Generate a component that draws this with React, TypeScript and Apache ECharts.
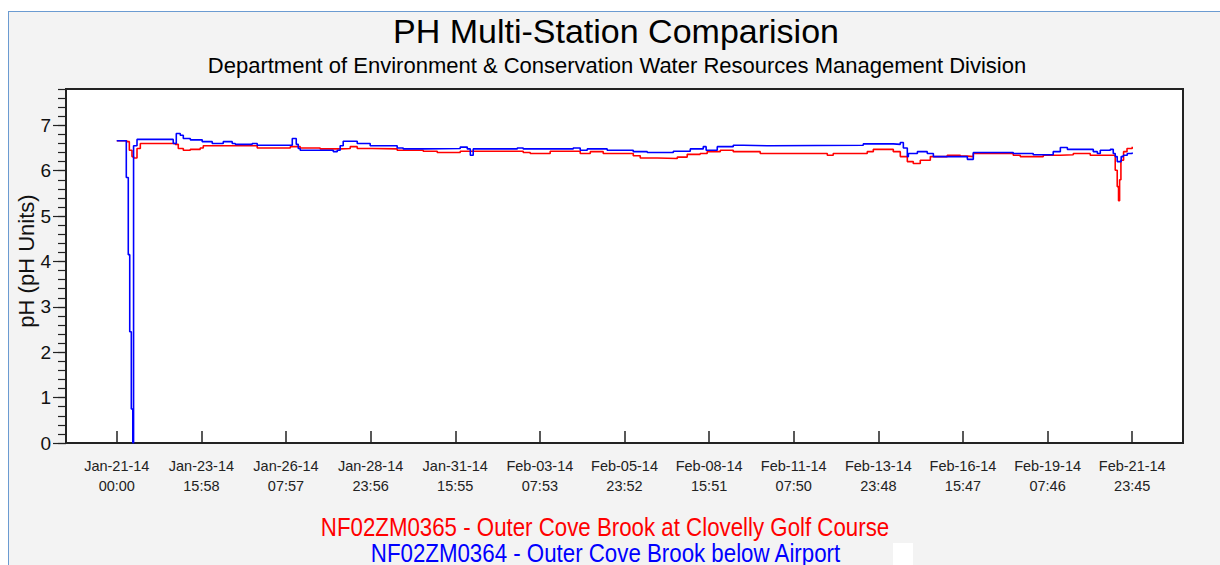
import React, { useEffect, useRef } from "react";
import * as echarts from "echarts";

// Data period: Jan-21-14 00:00 -> Feb-21-14 23:45 (hours since start)
const SPAN_HOURS = 767.75;

const tickLabels = [
  "Jan-21-14\n00:00", "Jan-23-14\n15:58", "Jan-26-14\n07:57", "Jan-28-14\n23:56",
  "Jan-31-14\n15:55", "Feb-03-14\n07:53", "Feb-05-14\n23:52", "Feb-08-14\n15:51",
  "Feb-11-14\n07:50", "Feb-13-14\n23:48", "Feb-16-14\n15:47", "Feb-19-14\n07:46",
  "Feb-21-14\n23:45",
];

const yTickValues = [0, 1, 2, 3, 4, 5, 6, 7];

const legendRed = "NF02ZM0365 - Outer Cove Brook at Clovelly Golf Course";
const legendBlue = "NF02ZM0364 - Outer Cove Brook below Airport";

// [hours since Jan-21-14 00:00, pH]
const station0365 = [
  [0, 6.66], [7.7, 6.64], [9.5, 6.45], [11.5, 6.31], [12.7, 6.28], [15.3, 6.49],
  [17.8, 6.6], [44.2, 6.58], [46.5, 6.49], [50.3, 6.45], [55.6, 6.47], [63.1, 6.5],
  [65.4, 6.55], [106.2, 6.5], [131.2, 6.53], [138.7, 6.5], [153.8, 6.48], [169, 6.49],
  [176.5, 6.53], [181.8, 6.49], [193.2, 6.48], [212, 6.45], [231.7, 6.43], [242.3, 6.4],
  [259.7, 6.43], [307.3, 6.4], [312.6, 6.38], [327.7, 6.43], [350.4, 6.38], [358, 6.42],
  [367.8, 6.38], [390.5, 6.33], [395.8, 6.28], [408.6, 6.27], [423.8, 6.3], [431.3, 6.36],
  [441.1, 6.38], [446.4, 6.42], [456.3, 6.45], [466.1, 6.42], [486.5, 6.38], [537.2, 6.34],
  [541.7, 6.38], [567.4, 6.42], [572, 6.47], [587.1, 6.42], [592.4, 6.31], [597.7, 6.2],
  [602.2, 6.16], [607.5, 6.23], [615.1, 6.31], [627.9, 6.34], [637.8, 6.32], [643.1, 6.31],
  [647.6, 6.38], [677.8, 6.34], [683.1, 6.31], [700.5, 6.34], [713.4, 6.35], [723.2, 6.38],
  [736, 6.34], [754.9, 6.01], [756.4, 5.65], [757.4, 5.34], [758.2, 5.8], [759.2, 6.23],
  [761.2, 6.42], [763.8, 6.49], [767.75, 6.53],
];

const station0364 = [
  [0, 6.66], [7.2, 5.85], [8.7, 4.15], [9.8, 2.45], [11, 0.75], [12.1, 0],
  [12.7, 6.55], [15.3, 6.69], [42.7, 6.6], [45, 6.82], [48, 6.78], [50.3, 6.71],
  [55.6, 6.68], [64.6, 6.64], [72.2, 6.6], [80.5, 6.64], [87.3, 6.6], [89.6, 6.58],
  [102.4, 6.6], [106.2, 6.56], [132.7, 6.71], [135.7, 6.58], [137.2, 6.49], [138.7, 6.45],
  [163.7, 6.42], [166.7, 6.45], [168.9, 6.55], [171.2, 6.65], [181.8, 6.6], [191.6, 6.55],
  [212, 6.5], [216.6, 6.48], [231.7, 6.49], [259.7, 6.52], [265, 6.48], [267.3, 6.34],
  [269.5, 6.48], [302.8, 6.5], [307.3, 6.48], [345.1, 6.5], [350.4, 6.45], [355.7, 6.48],
  [370.8, 6.45], [390.5, 6.42], [401.1, 6.4], [420.8, 6.43], [433.6, 6.48], [443.4, 6.53],
  [445.6, 6.45], [454, 6.53], [466.1, 6.56], [473.7, 6.55], [491.8, 6.56], [564.4, 6.59],
  [587.1, 6.58], [592.4, 6.62], [594.7, 6.5], [597.7, 6.31], [598.5, 6.38], [605.3, 6.42],
  [612.8, 6.38], [617.4, 6.31], [643.1, 6.25], [647.6, 6.4], [677.8, 6.38], [692.9, 6.35],
  [708, 6.42], [713.4, 6.51], [718.7, 6.47], [738.3, 6.42], [741.4, 6.38], [743.6, 6.45],
  [751.2, 6.47], [753.4, 6.38], [754.9, 6.31], [756.4, 6.2], [759.4, 6.31], [761, 6.34],
  [764, 6.38], [767.75, 6.4],
];

const FONT = '"Liberation Sans", Arial, Helvetica, sans-serif';

export default function App() {
  const ref = useRef<HTMLDivElement>(null);

  useEffect(() => {
    if (!ref.current) return;
    const chart = echarts.init(ref.current, undefined, { renderer: "svg" });
    const tickStep = SPAN_HOURS / (tickLabels.length - 1);
    const tickHours = tickLabels.map((_, i) => i * tickStep);
    const pad = SPAN_HOURS * 0.05;

    chart.setOption({
      animation: false,
      backgroundColor: "transparent",
      grid: {
        left: 57,
        top: 77,
        width: 1117,
        height: 354,
        show: true,
        backgroundColor: "#ffffff",
        borderColor: "#222",
        borderWidth: 2,
        containLabel: false,
      },
      xAxis: {
        type: "value",
        min: -pad,
        max: SPAN_HOURS + pad,
        splitLine: { show: false },
        axisLine: { show: true, onZero: false, lineStyle: { color: "#222", width: 2 } },
        axisTick: {
          show: true,
          inside: true,
          length: 12,
          customValues: tickHours,
          lineStyle: { color: "#222", width: 1.5 },
        },
        axisLabel: {
          customValues: tickHours,
          formatter: (v: number) => tickLabels[Math.round(v / tickStep)] ?? "",
          fontFamily: FONT,
          fontSize: 14.5,
          lineHeight: 20,
          color: "#222",
          margin: 13,
        },
      },
      yAxis: [
        {
          type: "value",
          min: 0,
          max: 7.8,
          splitLine: { show: false },
          axisLine: { show: true, onZero: false, lineStyle: { color: "#222", width: 2 } },
          axisTick: {
            show: true,
            inside: false,
            length: 13,
            customValues: yTickValues,
            lineStyle: { color: "#222", width: 1.2 },
          },
          axisLabel: {
            customValues: yTickValues,
            fontFamily: FONT,
            fontSize: 19,
            color: "#111",
            margin: 15,
          },
        },
        {
          type: "value",
          min: 0,
          max: 7.8,
          interval: 0.2,
          position: "left",
          splitLine: { show: false },
          axisLine: { show: false, onZero: false },
          axisLabel: { show: false },
          axisTick: {
            show: true,
            inside: false,
            length: 8,
            lineStyle: { color: "#222", width: 1.2 },
          },
        },
      ],
      series: [
        {
          name: legendRed,
          type: "line",
          data: station0365,
          step: "end",
          showSymbol: false,
          yAxisIndex: 0,
          lineStyle: { color: "#ff0000", width: 1.6 },
          itemStyle: { color: "#ff0000" },
          z: 2,
        },
        {
          name: legendBlue,
          type: "line",
          data: station0364,
          step: "end",
          showSymbol: false,
          yAxisIndex: 0,
          lineStyle: { color: "#0000ff", width: 1.6 },
          itemStyle: { color: "#0000ff" },
          z: 3,
        },
      ],
      graphic: [
        {
          type: "text",
          x: 607,
          y: 19,
          style: {
            text: "PH Multi-Station Comparision",
            font: `34px ${FONT}`,
            fill: "#000",
            textAlign: "center",
            textVerticalAlign: "middle",
          },
        },
        {
          type: "text",
          x: 608,
          y: 53,
          style: {
            text: "Department of Environment & Conservation Water Resources Management Division",
            font: `22px ${FONT}`,
            fill: "#000",
            textAlign: "center",
            textVerticalAlign: "middle",
          },
        },
        {
          type: "text",
          x: 17,
          y: 249,
          rotation: Math.PI / 2,
          style: {
            text: "pH (pH Units)",
            font: `22px ${FONT}`,
            fill: "#111",
            textAlign: "center",
            textVerticalAlign: "middle",
          },
        },
        {
          type: "text",
          x: 596,
          y: 515,
          scaleY: 1.17,
          style: {
            text: legendRed,
            font: `22.3px ${FONT}`,
            fill: "#ff0000",
            textAlign: "center",
            textVerticalAlign: "middle",
          },
        },
        {
          type: "text",
          x: 596.5,
          y: 541,
          scaleY: 1.17,
          style: {
            text: legendBlue,
            font: `22.3px ${FONT}`,
            fill: "#0000ff",
            textAlign: "center",
            textVerticalAlign: "middle",
          },
        },
        {
          type: "rect",
          shape: { x: 884, y: 531, width: 20, height: 30 },
          style: { fill: "#ffffff" },
        },
      ],
    });

    return () => chart.dispose();
  }, []);

  return (
    <div
      ref={ref}
      style={{
        position: "fixed",
        left: 8,
        top: 11,
        width: 1211,
        height: 553,
        borderTop: "1px solid #6b9bd1",
        borderLeft: "1px solid #6b9bd1",
        background: "#f3f3f3",
      }}
    />
  );
}
